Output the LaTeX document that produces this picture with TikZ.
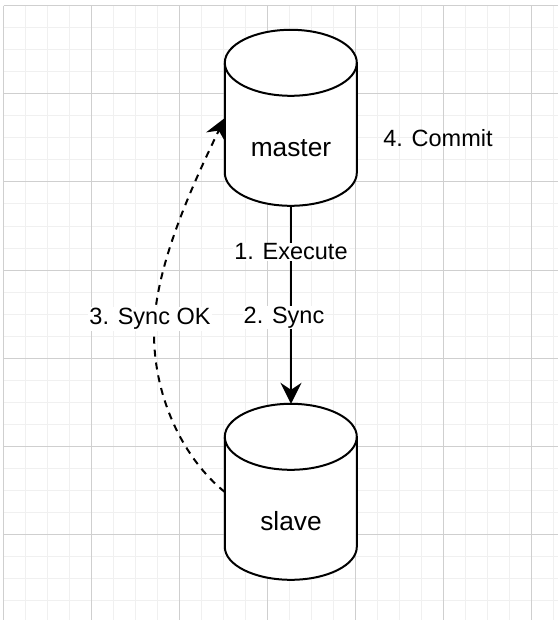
\documentclass[tikz,border=0pt]{standalone}
\usepackage{fontspec}
\setmainfont{Liberation Sans}
\usetikzlibrary{arrows.meta}
\tikzset{
  dbnode/.style={rectangle,inner sep=0pt,minimum width=132pt,text height=126.5pt,text depth=49.5pt,font=\fontsize{26.3}{26}\selectfont},
  dbline/.style={draw=black,line width=2pt,fill=white},
  flowtext/.style={font=\fontsize{23.5}{24}\selectfont,inner sep=1pt},
  edgetext/.style={flowtext,fill=white},
  syncedge/.style={draw=black,line width=2pt,-{Stealth[length=21pt,width=21pt,inset=7pt]}},
  ackedge/.style={syncedge,dash pattern=on 7pt off 6pt},
  minorgrid/.style={draw=black!6,line width=1pt},
  majorgrid/.style={draw=black!19,line width=1pt}
}
\newcommand{\cylshape}[1]{%
  \path[dbline] (#1.north west) ++(0,-33pt) arc[start angle=180,end angle=0,x radius=66pt,y radius=33pt]
    -- ++(0,-110pt) arc[start angle=0,end angle=-180,x radius=66pt,y radius=33pt] -- cycle;
  \path[draw=black,line width=2pt] (#1.north west) ++(0,-33pt) arc[start angle=180,end angle=360,x radius=66pt,y radius=33pt];
}
\begin{document}
\begin{tikzpicture}[x=1pt,y=-1pt]
\useasboundingbox (0,0) rectangle (558,620);
\fill[white] (0,0) rectangle (558,620);
\foreach \k in {0,...,25} {\draw[minorgrid] ({3.5+22*\k},6) -- ({3.5+22*\k},620);}
\foreach \k in {0,...,28} {\draw[minorgrid] (3.5,{6+22*\k}) -- (558,{6+22*\k});}
\foreach \k in {0,...,6} {\draw[majorgrid] ({3.5+88*\k},6) -- ({3.5+88*\k},620);}
\foreach \k in {0,...,7} {\draw[majorgrid] (3.5,{6+88*\k}) -- (558,{6+88*\k});}
\node[dbnode] (master) at (291,118) {};
\node[dbnode] (slave) at (291,492) {};
\cylshape{master}
\cylshape{slave}
\node[dbnode] (masterlabel) at (291,118) {master};
\node[dbnode] (slavelabel) at (291,492) {slave};
\draw[syncedge] (master.south) -- (slave.north);
\draw[ackedge] (slave.west) .. controls (185,460) and (154,400) .. (154,333) .. controls (154,270) and (190,190) .. (master.west);
\node[edgetext] (execute) at (291,252) {1. Execute};
\node[edgetext] (syncl) at (284,317.5) {2. Sync};
\node[edgetext] (syncok) at (150,319) {3. Sync OK};
\node[flowtext] (commit) at (438,138) {4. Commit};
\end{tikzpicture}
\end{document}
